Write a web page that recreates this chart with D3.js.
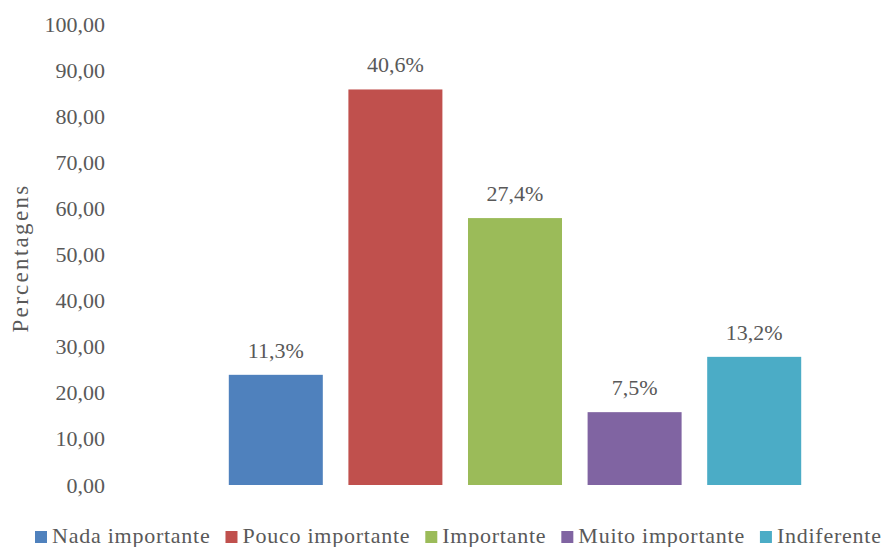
<!DOCTYPE html>
<html>
<head>
<meta charset="utf-8">
<script src="https://cdn.jsdelivr.net/npm/d3@7"></script>
</head>
<body style="margin:0">
<script>
const categories = ["Nada importante", "Pouco importante", "Importante", "Muito importante", "Indiferente"];
const values = [23.9, 85.8, 57.9, 15.8, 27.8];
const labels = ["11,3%", "40,6%", "27,4%", "7,5%", "13,2%"];
const colors = ["#4F81BD", "#C0504D", "#9BBB59", "#8064A2", "#4BACC6"];
const tickValues = [0, 10, 20, 30, 40, 50, 60, 70, 80, 90, 100];

const wSvg = 881;
const hSvg = 547;
const font = "'Liberation Serif', 'Times New Roman', serif";
const textColor = "#595959";

const ptBR = d3.formatLocale({decimal: ",", thousands: ".", grouping: [3], currency: ["R$", ""]});
const fmt = ptBR.format(".2f");

let svg = d3.select("body")
  .append("svg")
  .attr("width", wSvg)
  .attr("height", hSvg);

let yScale = d3.scaleLinear([0, 100], [485, 24]);
let xScale = d3.scaleBand(categories, [216, 814])
  .paddingInner(0.214)
  .paddingOuter(0.107);

// y axis: labels only, no line
let yAxis = svg.append("g")
  .attr("transform", "translate(105, 0)")
  .call(d3.axisLeft(yScale).tickValues(tickValues).tickFormat(fmt).tickSize(0).tickPadding(0));
yAxis.select(".domain").remove();
yAxis.selectAll("text")
  .style("font-family", font, "important")
  .style("font-size", "22px")
  .attr("fill", textColor);

svg.append("text")
  .attr("transform", "translate(28, 258) rotate(-90)")
  .attr("text-anchor", "middle")
  .style("font-family", font, "important")
  .style("font-size", "23px")
  .style("letter-spacing", "2.3px")
  .attr("fill", textColor)
  .text("Percentagens");

svg.append("g")
  .selectAll("rect")
  .data(categories)
  .enter()
  .append("rect")
  .attr("x", d => xScale(d))
  .attr("y", (d, i) => yScale(values[i]))
  .attr("width", xScale.bandwidth())
  .attr("height", (d, i) => yScale(0) - yScale(values[i]))
  .attr("fill", (d, i) => colors[i]);

svg.append("g")
  .selectAll("text")
  .data(categories)
  .enter()
  .append("text")
  .attr("x", d => xScale(d) + xScale.bandwidth() / 2)
  .attr("y", (d, i) => yScale(values[i]) - 17)
  .attr("text-anchor", "middle")
  .style("font-family", font, "important")
  .style("font-size", "22px")
  .attr("fill", textColor)
  .text((d, i) => labels[i]);

// legend
let legend = svg.append("g").attr("class", "legend");
let lx = 35;
categories.forEach((c, i) => {
  legend.append("rect")
    .attr("x", lx)
    .attr("y", 531)
    .attr("width", 12)
    .attr("height", 12)
    .attr("fill", colors[i]);
  let t = legend.append("text")
    .attr("x", lx + 17)
    .attr("y", 543)
    .style("font-family", font, "important")
    .style("font-size", "22px")
    .style("letter-spacing", "0.75px")
    .attr("fill", textColor)
    .text(c);
  lx += 17 + t.node().getComputedTextLength() + 15;
});
</script>
</body>
</html>
